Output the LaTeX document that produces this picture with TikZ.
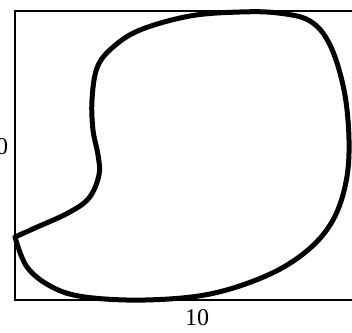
\documentclass[tikz,border=0pt]{standalone}
\usepackage{fontspec}
\setmainfont{Liberation Serif}
\begin{document}
\begin{tikzpicture}[x=1pt,y=-1pt,
  frame/.style={line width=1.4pt},
  curve/.style={line width=5pt,line join=round,line cap=round},
  lbl/.style={font=\fontsize{24}{24}\selectfont,inner sep=0pt}]
\useasboundingbox (0,0) rectangle (352,332);
\coordinate (tl) at (15,11);
\coordinate (bl) at (15,300);
\coordinate (tr) at (360,11);
\coordinate (br) at (360,300);
\draw[frame] (tr) -- (tl) -- (bl) -- (br);
\draw[curve] plot[smooth,tension=0.6] coordinates {
 (15,237) (35,228) (68,213) (89,198) (99,175) (98,155) (93,130) (92,100)
 (97,68) (112,48) (140,30) (190,16) (240,12) (278,13) (310,21) (330,45)
 (344,90) (349,140) (346,182) (333,220) (308,250) (268,275) (210,294)
 (145,300) (85,297) (52,287) (27,267) (15,237)};
\node[lbl] (ylab) at (2,147) {0};
\node[lbl] (xlab) at (197,318) {10};
\end{tikzpicture}
\end{document}
